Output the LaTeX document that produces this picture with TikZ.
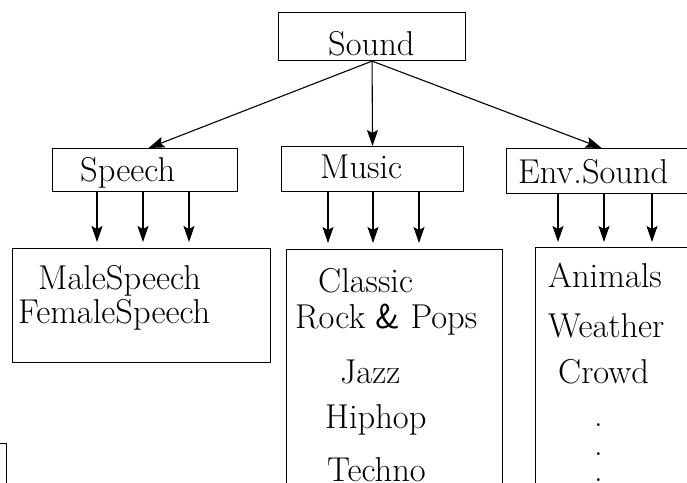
\documentclass[tikz,border=0pt]{standalone}
\usepackage{fontspec}
\usetikzlibrary{arrows.meta}
\begin{document}
\begin{tikzpicture}[x=1pt,y=-1pt,
  box/.style={draw,line width=1.1pt,inner sep=0pt,anchor=north west},
  lbl/.style={anchor=base west,inner sep=0pt,font=\fontsize{34.5}{40}\selectfont},
  arr/.style={-{Stealth[length=16pt,width=11pt,inset=3pt]},line width=1.1pt}]
\clip (0,0) rectangle (687,482);
% boxes
\node[box,minimum width=187pt,minimum height=48pt] (sound) at (278,12) {};
\node[box,minimum width=185pt,minimum height=43pt] (speech) at (52,148) {};
\node[box,minimum width=182pt,minimum height=45pt] (music) at (281,146) {};
\node[box,minimum width=190pt,minimum height=45pt] (env) at (506,148) {};
\node[box,minimum width=258pt,minimum height=114pt] (spl) at (12,248) {};
\node[box,minimum width=216pt,minimum height=260pt] (mul) at (286,249) {};
\node[box,minimum width=160pt,minimum height=260pt] (enl) at (535,247) {};
\node[box,minimum width=106pt,minimum height=100pt] (frag) at (-100,443) {};
% labels
\node[lbl] (tsound) at (328,55) {Sound};
\node[lbl] (tspeech) at (80,181) {Speech};
\node[lbl] (tmusic) at (320,178) {Music};
\node[lbl] (tenv) at (518,183) {Env.Sound};
\node[lbl] (tmale) at (38,289) {MaleSpeech};
\node[lbl] (tfemale) at (18,323) {FemaleSpeech};
\node[lbl] (tclassic) at (318,292) {Classic};
\node[lbl] (trock) at (295,328) {Rock {\sffamily\&} Pops};
\node[lbl] (tjazz) at (340,383) {Jazz};
\node[lbl] (thiphop) at (325,428) {Hiphop};
\node[lbl] (ttechno) at (327,481) {Techno};
\node[lbl] (tanimals) at (548,287) {Animals};
\node[lbl] (tweather) at (548,337) {Weather};
\node[lbl] (tcrowd) at (558,383) {Crowd};
\node[lbl] (d1) at (594,426) {.};
\node[lbl] (d2) at (594,455) {.};
\node[lbl] (d3) at (594,481) {.};
% connectors
\draw[arr] (sound.south) -- ([xshift=3.5pt]speech.north);
\draw[arr] (sound.south) -- (music.north);
\draw[arr] (sound.south) -- (env.north);
\foreach \x in {97,143,189}
  \draw[arr,shorten >=6pt] (\x,0 |- speech.south) -- (\x,0 |- spl.north);
\foreach \x in {328,373,419}
  \draw[arr,shorten >=6pt] (\x,0 |- music.south) -- (\x,0 |- mul.north);
\foreach \x in {558,604,652}
  \draw[arr,shorten >=5pt] (\x,0 |- env.south) -- (\x,0 |- enl.north);
\end{tikzpicture}
\end{document}
